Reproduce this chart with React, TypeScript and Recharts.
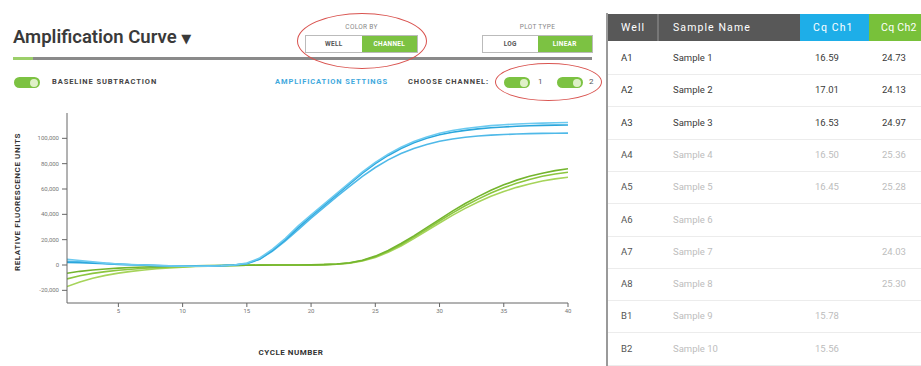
import React from 'react';
import { LineChart, Line, XAxis, YAxis } from 'recharts';

const cycles = [1,2,3,4,5,6,7,8,9,10,11,12,13,14,15,16,17,18,19,20,21,22,23,24,25,26,27,28,29,30,31,32,33,34,35,36,37,38,39,40];

const blueA = [4500,3500,2500,1500,800,300,0,-400,-700,-900,-1000,-900,-600,0,1500,5500,12500,21000,31000,39500,48000,56500,65000,73500,81000,87500,93000,97500,101000,104000,106200,107800,109000,110000,110700,111300,111700,112000,112300,112500];
const blueB = [2000,1800,1500,1000,500,200,-100,-400,-600,-800,-900,-800,-500,0,1200,4800,11500,20000,29500,38500,47000,55500,64000,72500,80000,86500,92000,96500,100000,102800,104800,106300,107500,108400,109000,109500,109900,110200,110400,110500];
const blueC = [3000,2600,2000,1300,700,200,-200,-500,-800,-1000,-1000,-900,-600,-100,1000,4500,11000,19000,28000,37000,45500,54000,62000,70000,77000,83000,88000,92000,95200,97700,99500,100800,101800,102500,103000,103400,103700,103900,104000,104100];
const greenA = [-6500,-5000,-3900,-3100,-2500,-2000,-1600,-1300,-1000,-800,-600,-500,-400,-300,-200,-100,0,0,0,100,300,800,1800,3800,7000,11500,17000,23000,29500,36000,42500,48500,54000,59000,63300,67000,70000,72500,74500,76000];
const greenB = [-11000,-8500,-6600,-5200,-4100,-3300,-2600,-2100,-1600,-1300,-1000,-700,-500,-300,-200,-100,0,0,0,100,300,700,1600,3500,6500,10800,16000,22000,28300,34700,41000,46800,52000,56800,61000,64500,67500,70000,71800,73200];
const greenC = [-17000,-13500,-10500,-8200,-6400,-5000,-3900,-3000,-2300,-1700,-1200,-900,-600,-400,-200,-100,0,0,0,100,300,600,1400,3200,6000,10000,15000,20800,27000,33200,39200,44700,49700,54200,58000,61300,64000,66300,68000,69300];

const xTicks = [5,10,15,20,25,30,35,40];
const yTicks = [-20000,0,20000,40000,60000,80000,100000];

const wells = ['A1','A2','A3','A4','A5','A6','A7','A8','B1','B2'];
const sampleNames = ['Sample 1','Sample 2','Sample 3','Sample 4','Sample 5','Sample 6','Sample 7','Sample 8','Sample 9','Sample 10'];
const cqCh1 = ['16.59','17.01','16.53','16.50','16.45','','','','15.78','15.56'];
const cqCh2 = ['24.73','24.13','24.97','25.36','25.28','','24.03','25.30','',''];
const activeRows = [true,true,true,false,false,false,false,false,false,false];

const data = cycles.map((c, i) => ({
  cycle: c,
  b1: blueA[i], b2: blueB[i], b3: blueC[i],
  g1: greenA[i], g2: greenB[i], g3: greenC[i],
}));

const GREEN = '#7cc242';
const font = 'Roboto, "DejaVu Sans", sans-serif';

const abs = (l: number, t: number, extra: React.CSSProperties = {}): React.CSSProperties => ({
  position: 'absolute', left: l, top: t, ...extra,
});

function Toggle({ x, y }: { x: number; y: number }) {
  return (
    <div style={abs(x, y, { width: 26, height: 11, borderRadius: 6, background: GREEN })}>
      <div style={{ position: 'absolute', right: 2, top: 1.5, width: 8, height: 8, borderRadius: 4, background: '#dff0c8' }} />
    </div>
  );
}

const small: React.CSSProperties = { fontFamily: font, fontSize: 6.5, fontWeight: 700, letterSpacing: 0.3, whiteSpace: 'nowrap' };
const label: React.CSSProperties = { fontFamily: font, fontSize: 7.5, fontWeight: 700, letterSpacing: 0.9, whiteSpace: 'nowrap' };
const head: React.CSSProperties = { fontSize: 10.5, color: '#fff', fontWeight: 400, letterSpacing: 1.1, whiteSpace: 'nowrap' };

export default function App() {
  return (
    <div style={{ position: 'absolute', left: 0, top: 0, width: 921, height: 366, overflow: 'hidden', background: '#fff', fontFamily: font }}>
      {/* Title */}
      <div style={abs(13, 26, { fontSize: 18.5, fontWeight: 600, color: '#3a3a3a', whiteSpace: 'nowrap' })}>
        Amplification Curve <span style={{ fontSize: 13 }}>▼</span>
      </div>
      <div style={abs(13, 57, { width: 579, height: 3, background: '#8a8a8a' })} />
      <div style={abs(13, 57, { width: 20, height: 3, background: '#9ccf6a' })} />

      {/* Color by */}
      <div style={abs(305, 23, { ...small, width: 113, textAlign: 'center', color: '#888', fontWeight: 400 })}>COLOR BY</div>
      <div style={abs(305, 35, { width: 111, height: 16, border: '1px solid #bbb', display: 'flex' })}>
        <div style={{ ...small, flex: 1, textAlign: 'center', lineHeight: '16px', color: '#555' }}>WELL</div>
        <div style={{ ...small, flex: 1, textAlign: 'center', lineHeight: '16px', color: '#fff', background: GREEN }}>CHANNEL</div>
      </div>
      {/* Plot type */}
      <div style={abs(482, 23, { ...small, width: 111, textAlign: 'center', color: '#888', fontWeight: 400 })}>PLOT TYPE</div>
      <div style={abs(482, 35, { width: 109, height: 16, border: '1px solid #bbb', display: 'flex' })}>
        <div style={{ ...small, flex: 1, textAlign: 'center', lineHeight: '16px', color: '#555' }}>LOG</div>
        <div style={{ ...small, flex: 1, textAlign: 'center', lineHeight: '16px', color: '#fff', background: GREEN }}>LINEAR</div>
      </div>

      {/* Row 2 */}
      <Toggle x={14} y={77} />
      <div style={abs(52, 77, { ...label, color: '#444' })}>BASELINE SUBTRACTION</div>
      <div style={abs(275, 77, { ...label, color: '#3fa9dd' })}>AMPLIFICATION SETTINGS</div>
      <div style={abs(408, 77, { ...label, color: '#444' })}>CHOOSE CHANNEL:</div>
      <Toggle x={504} y={77} />
      <div style={abs(538, 77, { fontSize: 8, color: '#555' })}>1</div>
      <Toggle x={557} y={77} />
      <div style={abs(589, 77, { fontSize: 8, color: '#555' })}>2</div>

      {/* Red ellipses */}
      <div style={abs(297, 13, { width: 130, height: 56, borderRadius: '50%', border: '1.5px solid #d9534f', boxSizing: 'border-box' })} />
      <div style={abs(495, 63, { width: 107, height: 38, borderRadius: '50%', border: '1.5px solid #d9534f', boxSizing: 'border-box' })} />

      {/* Axis titles */}
      <div style={abs(17, 202, { ...small, fontSize: 8, letterSpacing: 0.6, color: '#333', transform: 'translate(-50%, -50%) rotate(-90deg)' })}>RELATIVE FLUORESCENCE UNITS</div>
      <div style={abs(291, 348, { ...small, fontSize: 8, letterSpacing: 0.5, color: '#333', transform: 'translateX(-50%)' })}>CYCLE NUMBER</div>

      {/* Chart */}
      <div style={abs(0, 0)}>
        <LineChart width={610} height={366} data={data} margin={{ top: 113, right: 42, bottom: 33, left: 0 }}>
          <XAxis
            dataKey="cycle"
            type="number"
            domain={[1, 40]}
            ticks={xTicks}
            allowDataOverflow
            height={30}
            stroke="#666"
            tickSize={4}
            tick={{ fontSize: 6, fill: '#777', fontFamily: font }}
          />
          <YAxis
            type="number"
            domain={[-30000, 120000]}
            ticks={yTicks}
            allowDataOverflow
            width={67}
            stroke="#666"
            tickSize={5}
            tickMargin={3}
            tick={{ fontSize: 6, fill: '#777', fontFamily: font }}
            tickFormatter={(v: number) => v.toLocaleString('en-US')}
          />
          <Line dataKey="g3" stroke="#a6d45a" strokeWidth={1.6} dot={false} isAnimationActive={false} />
          <Line dataKey="g2" stroke="#8cc63f" strokeWidth={1.6} dot={false} isAnimationActive={false} />
          <Line dataKey="g1" stroke="#74b52e" strokeWidth={1.6} dot={false} isAnimationActive={false} />
          <Line dataKey="b3" stroke="#4fb9e8" strokeWidth={1.6} dot={false} isAnimationActive={false} />
          <Line dataKey="b2" stroke="#2aa6dc" strokeWidth={1.6} dot={false} isAnimationActive={false} />
          <Line dataKey="b1" stroke="#6ccaf0" strokeWidth={1.6} dot={false} isAnimationActive={false} />
        </LineChart>
      </div>

      {/* Table */}
      <div style={abs(606, 13, { width: 2, height: 353, background: '#9a9a9a' })} />
      <div style={abs(608, 14, { width: 313, height: 27, background: '#585858' })} />
      <div style={abs(657, 14, { width: 2, height: 27, background: '#777' })} />
      <div style={abs(800, 14, { width: 69, height: 27, background: '#1eaee8' })} />
      <div style={abs(869, 14, { width: 60, height: 27, background: '#78c13a' })} />
      <div style={abs(621, 21, head)}>Well</div>
      <div style={abs(673, 21, head)}>Sample Name</div>
      <div style={abs(813, 21, head)}>Cq Ch1</div>
      <div style={abs(881, 21, { ...head, letterSpacing: 0.3 })}>Cq Ch2</div>
      {wells.map((w, i) => {
        const top = 42 + i * 32.3;
        const on = activeRows[i];
        const c = on ? '#3a3a3a' : '#bdbdbd';
        return (
          <React.Fragment key={w}>
            <div style={abs(608, top + 32, { width: 313, height: 1, background: '#ececec' })} />
            <div style={abs(621, top + 10, { fontSize: 9.5, color: on ? '#333' : '#555' })}>{w}</div>
            <div style={abs(673, top + 10, { fontSize: 9.5, color: c })}>{sampleNames[i]}</div>
            <div style={abs(815, top + 10, { fontSize: 9.5, color: c })}>{cqCh1[i]}</div>
            <div style={abs(882, top + 10, { fontSize: 9.5, color: c })}>{cqCh2[i]}</div>
          </React.Fragment>
        );
      })}
    </div>
  );
}
